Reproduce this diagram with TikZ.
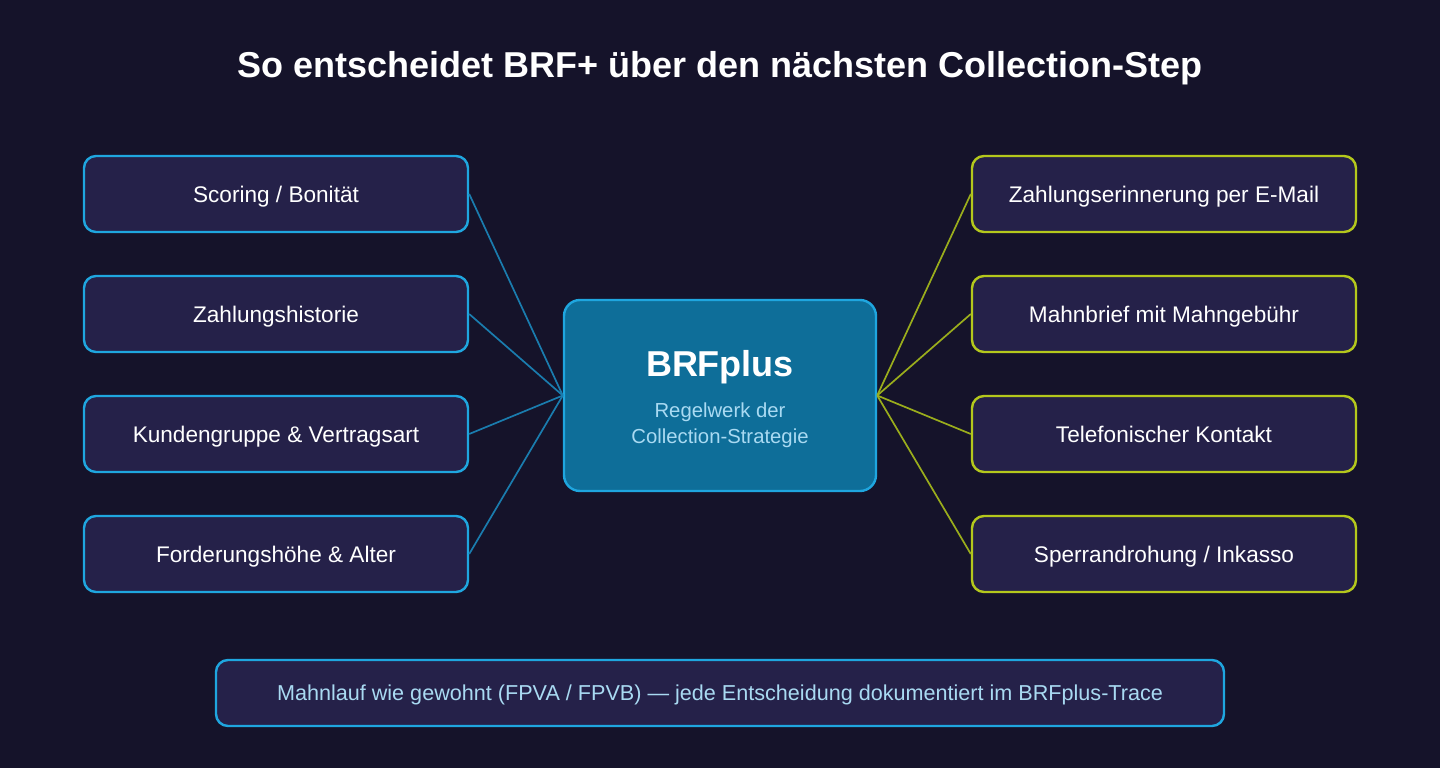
\documentclass[tikz,border=0pt]{standalone}
\usepackage{fontspec}
\setmainfont{Liberation Sans}
\definecolor{bg}{HTML}{15132A}
\definecolor{boxfill}{HTML}{252149}
\definecolor{cyanb}{HTML}{1FA6DF}
\definecolor{cyanl}{HTML}{1A7CAE}
\definecolor{limeb}{HTML}{B4C81C}
\definecolor{limel}{HTML}{9AAD1C}
\definecolor{centerfill}{HTML}{0E6E99}
\definecolor{lightblue}{HTML}{A9DAF2}
\begin{document}
\begin{tikzpicture}[x=1pt,y=-1pt,
  inbox/.style={draw=cyanb, fill=boxfill, line width=2.4pt, rounded corners=12pt,
    minimum width=384pt, minimum height=76pt, inner sep=0pt, text=white,
    text depth=0pt, font=\fontsize{22.6}{27}\selectfont},
  outbox/.style={inbox, draw=limeb},
  inline/.style={draw=cyanl, line width=1.7pt},
  outline/.style={draw=limel, line width=1.7pt}]
\fill[bg] (0,0) rectangle (1440,768);
\useasboundingbox (0,0) rectangle (1440,768);
\node[anchor=base, text=white, font=\fontsize{36}{42}\selectfont\bfseries] (title) at (720,77.3) {So entscheidet BRF+ über den nächsten Collection-Step};
% center
\node[draw=cyanb, fill=centerfill, line width=2.4pt, rounded corners=16pt,
  minimum width=312pt, minimum height=191pt] (c) at (720,395.5) {};
\node[anchor=base, text=white, font=\fontsize{36}{42}\selectfont\bfseries] (ct) at (720,376.7) {BRFplus};
\node[anchor=base, text=lightblue, font=\fontsize{20.3}{24}\selectfont] (cs1) at (720,417.3) {Regelwerk der};
\node[anchor=base, text=lightblue, font=\fontsize{20.3}{24}\selectfont] (cs2) at (720,443.3) {Collection-Strategie};
% left
\node[inbox] (l1) at (276,194) {Scoring / Bonität};
\node[inbox] (l2) at (276,314) {Zahlungshistorie};
\node[inbox] (l3) at (276,434) {Kundengruppe \& Vertragsart};
\node[inbox] (l4) at (276,554) {Forderungshöhe \& Alter};
% right
\node[outbox] (r1) at (1164,194) {Zahlungserinnerung per E-Mail};
\node[outbox] (r2) at (1164,314) {Mahnbrief mit Mahngebühr};
\node[outbox] (r3) at (1164,434) {Telefonischer Kontakt};
\node[outbox] (r4) at (1164,554) {Sperrandrohung / Inkasso};
% connectors
\foreach \n in {l1,l2,l3,l4} \draw[inline] (\n.east) -- (c.west);
\foreach \n in {r1,r2,r3,r4} \draw[outline] (c.east) -- (\n.west);
% bottom
\node[draw=cyanb, fill=boxfill, line width=2.4pt, rounded corners=12pt,
  minimum width=1008pt, minimum height=66pt, inner sep=0pt, text=lightblue,
  text depth=0pt, font=\fontsize{21.6}{25}\selectfont] (b) at (720,693) {Mahnlauf wie gewohnt (FPVA / FPVB) — jede Entscheidung dokumentiert im BRFplus-Trace};
\end{tikzpicture}
\end{document}
